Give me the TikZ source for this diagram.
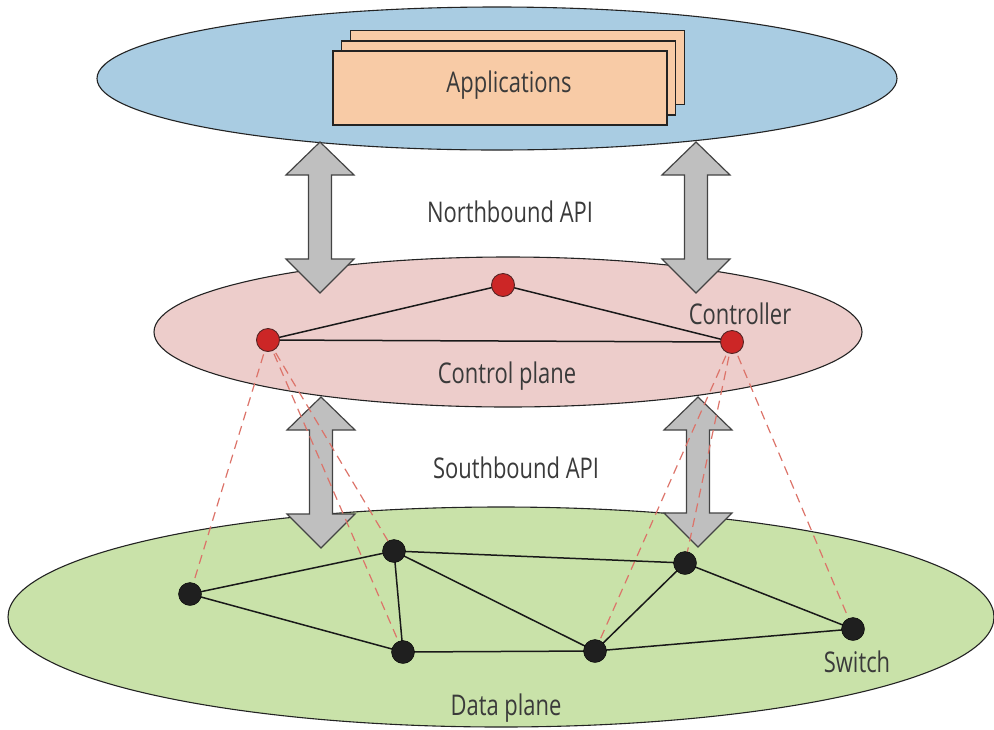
\documentclass[tikz,border=0pt]{standalone}
\usepackage{fontspec}
\setmainfont{Open Sans}[FakeStretch=0.77]
\usetikzlibrary{shapes.geometric}

\definecolor{appblue}{RGB}{169,204,226}
\definecolor{ctrlpink}{RGB}{237,205,203}
\definecolor{datagreen}{RGB}{201,226,169}
\definecolor{apporange}{RGB}{248,203,166}
\definecolor{arrowgray}{RGB}{191,191,191}
\definecolor{ctrlred}{RGB}{204,38,38}
\definecolor{linkred}{RGB}{220,115,105}
\definecolor{txtgray}{RGB}{58,58,58}
\definecolor{outline}{RGB}{35,35,35}

\tikzset{
  plane/.style={ellipse, draw=outline, line width=1.1pt, inner sep=0pt},
  appbox/.style={rectangle, draw=outline, line width=1.2pt, fill=apporange,
                 minimum width=334pt, minimum height=74pt, inner sep=0pt},
  ctrl/.style={circle, draw=outline!70!ctrlred, line width=0.9pt, fill=ctrlred,
               minimum size=23pt, inner sep=0pt},
  switchnode/.style={circle, draw=black, fill=black!88, minimum size=23pt, inner sep=0pt},
  link/.style={line width=1.5pt, draw=black!90},
  ctrllink/.style={draw=linkred, line width=1.2pt, dash pattern=on 9pt off 6pt},
  apiarrow/.style={draw=outline!85, line width=1.2pt, fill=arrowgray, line join=miter},
  label/.style={text=txtgray, font=\fontsize{28.5}{32}\selectfont, inner sep=0pt}
}

% vertical double-headed arrow between two planes: centre x, top tip y, bottom tip y
\newcommand\apiarrow[3]{%
  \draw[apiarrow] (#1,#2) -- (#1+34,#2+33) -- (#1+11.5,#2+33) -- (#1+11.5,#3-34)
    -- (#1+34,#3-34) -- (#1,#3) -- (#1-34,#3-34) -- (#1-11.5,#3-34)
    -- (#1-11.5,#2+33) -- (#1-34,#2+33) -- cycle;}

\begin{document}
\begin{tikzpicture}[x=1pt, y=-1pt]
\useasboundingbox (0,0) rectangle (994,729);

% planes
\node[plane, fill=appblue, minimum width=800pt, minimum height=143pt] (appplane) at (497,78.5) {};
\node[plane, fill=ctrlpink, minimum width=708pt, minimum height=150pt] (ctrlplane) at (508,332) {};
\node[plane, fill=datagreen, minimum width=986pt, minimum height=220pt] (dataplane) at (501,617) {};

% stacked applications
\node[appbox] (app3) at (517.5,67.5) {};
\node[appbox] (app2) at (508.5,78) {};
\node[appbox] (apps) at (500,88) {};
\node[label] (appslabel) at (509,85) {Applications};

% API arrows
\apiarrow{320}{142}{293}
\apiarrow{696}{142}{293}
\apiarrow{321}{397}{548}
\apiarrow{698}{397}{547}

% controllers and switches
\coordinate (c1p) at (268,340);
\coordinate (c2p) at (503,285);
\coordinate (c3p) at (732,342);
\coordinate (s1p) at (190,594);
\coordinate (s2p) at (394,551);
\coordinate (s3p) at (403,652);
\coordinate (s4p) at (595,651);
\coordinate (s5p) at (685,563);
\coordinate (s6p) at (853,629);

% controller-to-switch links
\foreach \c/\s in {c1p/s1p, c1p/s2p, c1p/s3p, c3p/s4p, c3p/s5p, c3p/s6p}
  \draw[ctrllink] (\c) -- (\s);

% links between nodes
\draw[link] (c1p) -- (c2p) -- (c3p) -- (c1p);
\foreach \a/\b in {s1p/s2p, s1p/s3p, s2p/s3p, s2p/s4p, s2p/s5p, s3p/s4p, s4p/s5p, s4p/s6p, s5p/s6p}
  \draw[link] (\a) -- (\b);

\node[ctrl] (c1) at (c1p) {};
\node[ctrl] (c2) at (c2p) {};
\node[ctrl] (c3) at (c3p) {};
\foreach \s in {1,...,6}
  \node[switchnode] (s\s) at (s\s p) {};

% labels
\node[label] (nbapi) at (510,212) {Northbound API};
\node[label] (ctrllabel) at (740,314) {Controller};
\node[label] (cplabel) at (507,376) {Control plane};
\node[label] (sbapi) at (516,468) {Southbound API};
\node[label] (swlabel) at (857,662) {Switch};
\node[label] (dplabel) at (506,708) {Data plane};
\end{tikzpicture}
\end{document}
